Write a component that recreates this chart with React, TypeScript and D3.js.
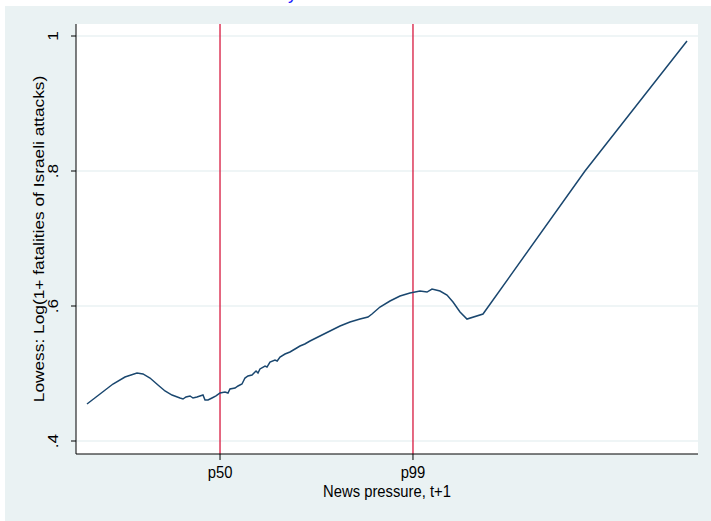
import React from "react";
import * as d3 from "d3";

// News pressure (relative units) and lowess fitted values
const newsPressure = [
  0, 2.17, 4.33, 6.33, 8.33, 9.33, 10.5, 11.83, 13.0, 14.17, 15.5, 16.0, 16.5, 17.17, 17.67,
  18.33, 18.83, 19.33, 19.67, 20.17, 20.83, 21.5, 22.17, 23.0, 23.5, 23.83, 24.67, 25.17, 25.83,
  26.33, 26.83, 27.5, 28.17, 28.5, 28.83, 29.67, 30.0, 30.5, 31.33, 31.7, 32.17, 33.0, 33.83, 34.67, 35.5,
  36.3, 37.17, 38.83, 40.5, 42.17, 43.83, 45.5, 46.83, 47.5, 48.83, 50.5, 52.17, 53.83, 55.5,
  56.67, 57.5, 58.83, 60.0, 61.0, 62.17, 63.33, 66.0, 83.0, 100,
];
const lowessFit = [
  0.4548, 0.4696, 0.4844, 0.4948, 0.5007, 0.4993, 0.4933, 0.483, 0.4741, 0.4681, 0.4637,
  0.4622, 0.4652, 0.4667, 0.4637, 0.4652, 0.4667, 0.4681, 0.4607, 0.4607, 0.4637, 0.4667,
  0.4711, 0.4726, 0.4711, 0.477, 0.4785, 0.4815, 0.4844, 0.4933, 0.4963, 0.4978, 0.5037, 0.5007,
  0.5067, 0.5111, 0.5096, 0.517, 0.52, 0.5185, 0.5244, 0.5289, 0.5319, 0.5363, 0.5407,
  0.5437, 0.5481, 0.5556, 0.563, 0.5704, 0.5763, 0.5807, 0.5837, 0.5881, 0.5985, 0.6074,
  0.6148, 0.6193, 0.6222, 0.6207, 0.6252, 0.6222, 0.6163, 0.6059, 0.5911, 0.5807, 0.5881,
  0.8, 0.9926,
];
const yTicks = [0.4, 0.6, 0.8, 1];
const yTickLabels = [".4", ".6", ".8", "1"];
const xTickValues = [22.17, 54.33];
const xTickLabels = ["p50", "p99"];

const W = 711;
const H = 521;
const left = 76, right = 698, top = 24, bottom = 454;
const FONT = "'Liberation Sans', Arial, Helvetica, sans-serif";
const FS = 14.8;
const STRETCH = 1.17;

export default function App() {
  const x = d3.scaleLinear().domain([-1.833, 101.833]).range([left, right]);
  const y = d3.scaleLinear().domain([0.4, 1]).range([441, 36]);
  const pts = newsPressure.map((v, i) => [v, lowessFit[i]] as [number, number]);
  const line = d3.line<[number, number]>().x((d) => x(d[0])).y((d) => y(d[1]));

  return (
    <svg width={W} height={H} style={{ position: "absolute", left: 0, top: 0 }} fontFamily={FONT}>
      <rect x={0} y={0} width={W} height={H} fill="#ffffff" />
      <rect x={5} y={6} width={W - 5} height={H - 6} fill="#EAF2F3" />
      <text x={297} y={-1} fill="#1a1aff" fontSize={18} textAnchor="end">
        Israeli attacks by
      </text>
      <rect x={left} y={top} width={right - left} height={bottom - top} fill="#ffffff" />
      {yTicks.map((t, i) => (
        <g key={i}>
          <line x1={left} x2={right} y1={y(t)} y2={y(t)} stroke="#EAF2F3" strokeWidth={1.5} />
          <line x1={left - 5} x2={left} y1={y(t)} y2={y(t)} stroke="#000" strokeWidth={1} />
          <text
            transform={`translate(58,${y(t)}) rotate(-90) scale(${STRETCH},1)`}
            textAnchor="middle"
            fontSize={FS}
            fill="#000"
          >
            {yTickLabels[i]}
          </text>
        </g>
      ))}
      {xTickValues.map((t, i) => (
        <g key={i}>
          <line x1={x(t)} x2={x(t)} y1={top} y2={bottom} stroke="#D7193F" strokeWidth={1.3} />
          <line x1={x(t)} x2={x(t)} y1={bottom} y2={bottom + 6} stroke="#000" strokeWidth={1} />
          <text
            transform={`translate(${x(t)},478) scale(1,${STRETCH})`}
            textAnchor="middle"
            fontSize={FS}
            fill="#000"
          >
            {xTickLabels[i]}
          </text>
        </g>
      ))}
      <path d={line(pts) ?? ""} fill="none" stroke="#1A476F" strokeWidth={1.5} />
      <line x1={left} x2={left} y1={top} y2={bottom} stroke="#000" strokeWidth={1} />
      <line x1={left} x2={right} y1={bottom} y2={bottom} stroke="#000" strokeWidth={1} />
      <text
        transform={`translate(${(left + right) / 2},497) scale(1,${STRETCH})`}
        textAnchor="middle"
        fontSize={FS}
        fill="#000"
      >
        News pressure, t+1
      </text>
      <text
        transform={`translate(44,${(top + bottom) / 2}) rotate(-90) scale(${STRETCH},1)`}
        textAnchor="middle"
        fontSize={FS}
        fill="#000"
      >
        Lowess: Log(1+ fatalities of Israeli attacks)
      </text>
    </svg>
  );
}
